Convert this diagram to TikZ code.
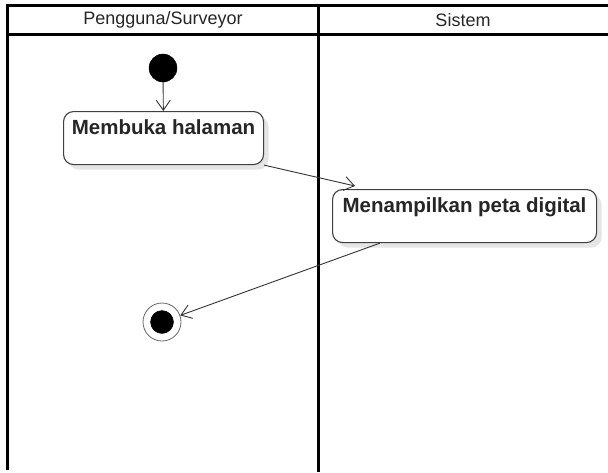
\documentclass[tikz,border=0pt]{standalone}
\usepackage{fontspec}
\setmainfont{Liberation Sans}
\usetikzlibrary{arrows.meta, positioning, shadows}
\tikzstyle{lane} = [line width=3pt, line join=miter]
\tikzstyle{title} = [font=\fontsize{18}{21}\selectfont, text=black!85]
\tikzstyle{activity} = [draw=black!75, line width=1.1pt, rectangle, rounded corners=10pt, fill=white, font=\fontsize{20.5}{24}\selectfont\bfseries, text=black!85, inner xsep=4pt, inner ysep=8pt, text height=15pt, text depth=22pt, drop shadow={fill=black!10, shadow xshift=5pt, shadow yshift=-5pt, opacity=1}]
\tikzstyle{start} = [draw, circle, fill=black, minimum size=28pt, inner sep=0pt]
\tikzstyle{flow} = [-{Straight Barb[length=10pt, width=14pt]}, draw=black!80, line width=0.9pt]

\begin{document}
\begin{tikzpicture}[x=1pt, y=-1pt]
\useasboundingbox (0,0) rectangle (608,472);

% swimlanes
\draw [lane] (7.5,470) -- (7.5,5.5) -- (608,5.5);
\draw [lane] (7.5,34) -- (608,34);
\draw [lane] (318.5,5.5) -- (318.5,472);
\node [title] (pengguna) at (163,20) {Pengguna/Surveyor};
\node [title] (sistem) at (463,20) {Sistem};

\node [start] (awal) at (163,68) {};
\node [activity, minimum width=200pt, minimum height=53pt, anchor=north west] (membuka) at (63,111) {Membuka halaman};
\node [activity, minimum width=264pt, minimum height=53pt, anchor=north west] (tampil) at (332,189) {Menampilkan peta digital};
\node [draw=black!60, circle, line width=0.8pt, minimum size=38pt, inner sep=0pt] (akhir) at (162,322) {};
\node [start, minimum size=23pt] (akhirisi) at (akhir) {};

\draw [flow] (awal) -- (membuka);
\draw [flow] (membuka.south east) -- ([xshift=23pt, yshift=3pt]tampil.north west);
\draw [flow] ([xshift=48pt]tampil.south west) -- (akhir);

\end{tikzpicture}
\end{document}
